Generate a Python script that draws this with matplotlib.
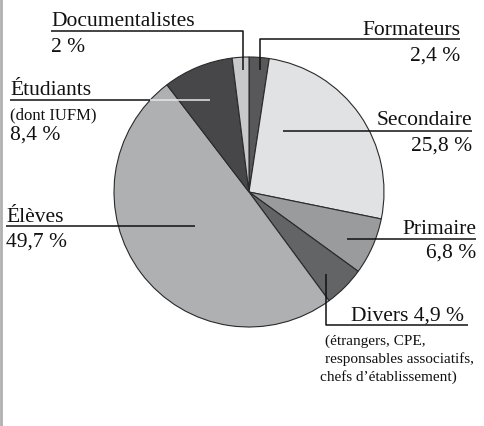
import matplotlib
matplotlib.use("Agg")
import matplotlib.pyplot as plt

categories = ["Formateurs", "Secondaire", "Primaire", "Divers", "Élèves", "Étudiants", "Documentalistes"]
values = [2.4, 25.8, 6.8, 4.9, 49.7, 8.4, 2.0]
colors = ["#58585a", "#e1e2e4", "#9a9b9d", "#636466", "#afb0b2", "#47474a", "#c8c9cb"]
pct_labels = ["2,4 %", "25,8 %", "6,8 %", "4,9 %", "49,7 %", "8,4 %", "2 %"]

W, H = 484, 427
fig = plt.figure(figsize=(W / 100, H / 100), dpi=100)
ax = fig.add_axes([0, 0, 1, 1])

def Y(y):
    return H - y

cx, cy, r = 249, 193, 135
ax.pie(values, colors=colors, startangle=90, counterclock=False,
       center=(cx, Y(cy)), radius=r, frame=True,
       wedgeprops=dict(edgecolor="#2a2a2a", linewidth=0.8))
ax.set_xlim(0, W)
ax.set_ylim(0, H)
ax.set_aspect("equal")
ax.axis("off")

FONT = "Liberation Serif"
big = 15.5
small = 11
tc = "#111111"
lw = 1.1

def txt(x, y, s, size=big, ha="left"):
    ax.text(x, Y(y), s, fontsize=size, family=FONT, ha=ha, va="baseline", color=tc, zorder=5)

def line(xs, ys, color="#111111"):
    ax.plot(xs, [Y(v) for v in ys], color=color, lw=lw, zorder=4, solid_capstyle="butt")

# left frame border
ax.plot([1, 1], [0, H], color="#b0b0b0", lw=2, zorder=6)

# Documentalistes
txt(51, 26, categories[6])
txt(51, 52, pct_labels[6])
line([51, 243, 243], [32, 32, 71])

# Formateurs
txt(460, 35, categories[0], ha="right")
txt(460, 61, pct_labels[0], ha="right")
line([460, 260, 260], [40, 40, 71])

# Étudiants
txt(10, 95, categories[5])
txt(10, 119, "(dont IUFM)", size=12)
txt(10, 140, pct_labels[5])
line([10, 150], [101, 101])
line([150, 210], [101, 101], color="#e8e8e8")

# Secondaire
txt(472, 125, categories[1], ha="right")
txt(472, 151, pct_labels[1], ha="right")
line([283, 472], [132, 132])

# Élèves
txt(6, 222, categories[4])
txt(6, 247, pct_labels[4])
line([6, 195], [227, 227])

# Primaire
txt(476, 234, categories[2], ha="right")
txt(476, 258, pct_labels[2], ha="right")
line([347, 476], [240, 240])

# Divers
txt(464, 321, categories[3] + " " + pct_labels[3], ha="right")
line([326, 326, 468], [275, 326, 326])
txt(325, 345, "(étrangers, CPE,", size=small)
txt(325, 363, "responsables associatifs,", size=small)
txt(320, 381, "chefs d’établissement)", size=small)

fig.savefig("out.png", dpi=100)
